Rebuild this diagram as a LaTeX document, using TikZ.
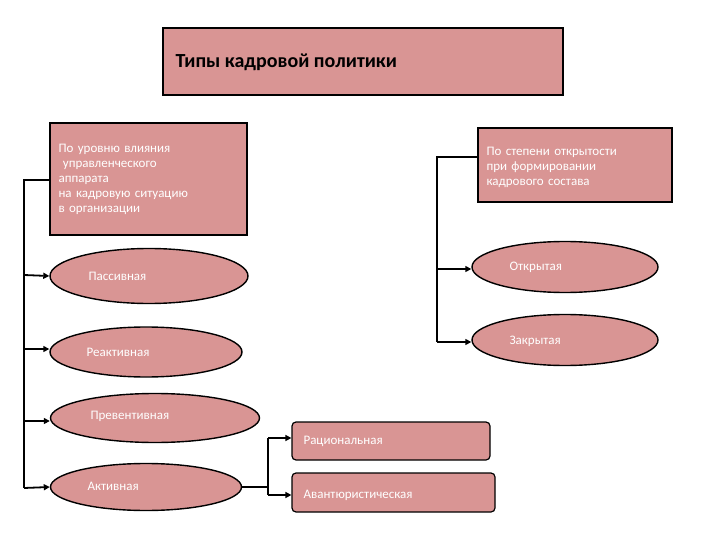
\documentclass[tikz,border=0pt]{standalone}
\usepackage{fontspec}
\setmainfont{Carlito}
\usetikzlibrary{shapes.geometric,arrows.meta}
\definecolor{pinkfill}{RGB}{217,149,148}
\tikzset{
 box/.style={draw=black,line width=1.4pt,fill=pinkfill,inner sep=0pt},
 ell/.style={ellipse,draw=black,line width=1.4pt,fill=pinkfill,inner sep=0pt},
 rbox/.style={draw=black,line width=1.2pt,fill=pinkfill,rounded corners=4pt,inner sep=0pt},
 wtext/.style={text=white,font=\fontsize{13}{15}\selectfont,align=left,anchor=west},
 conn/.style={line width=1.8pt,draw=black},
 arr/.style={conn,-{Triangle[length=6pt,width=6pt]}}
}
\begin{document}
\begin{tikzpicture}[x=1pt,y=-1pt]
\useasboundingbox (0,0) rectangle (720,540);
% title
\node[box,minimum width=400pt,minimum height=67pt] (title) at (363,61.5) {};
\node[anchor=west,font=\fontsize{20}{24}\selectfont\bfseries] (tt) at (172,62) {Типы кадровой политики};
% left box
\node[box,minimum width=197pt,minimum height=112pt] (lb) at (148.5,179) {};
\node[wtext,text width=200pt] (lbt) at (55,179) {По уровню влияния\\ \ управленческого\\аппарата\\на кадровую ситуацию\\в организации};
% right box
\node[box,minimum width=194pt,minimum height=74pt] (rb) at (575,165) {};
\node[wtext,text width=200pt] (rbt) at (483,167) {По степени открытости\\при формировании\\кадрового состава};
% ellipses
\node[ell,minimum width=198pt,minimum height=55pt] (e1) at (149,276) {};
\node[wtext] at (85,276) {Пассивная};
\node[ell,minimum width=192pt,minimum height=50pt] (e2) at (146,352) {};
\node[wtext] at (83,352) {Реактивная};
\node[ell,minimum width=209pt,minimum height=49pt] (e3) at (155,418) {};
\node[wtext] at (87,416) {Превентивная};
\node[ell,minimum width=191pt,minimum height=47pt] (e4) at (146,487) {};
\node[wtext] at (84,486) {Активная};
\node[ell,minimum width=186pt,minimum height=51pt] (o1) at (565,267) {};
\node[wtext] at (506,267) {Открытая};
\node[ell,minimum width=186pt,minimum height=51pt] (o2) at (565,340) {};
\node[wtext] at (506,341) {Закрытая};
% rounded boxes
\node[rbox,minimum width=198pt,minimum height=38pt] (r1) at (391,441) {};
\node[wtext] at (300,441) {Рациональная};
\node[rbox,minimum width=203pt,minimum height=39pt] (r2) at (393.5,492.5) {};
\node[wtext] at (300,495) {Авантюристическая};
% connectors left
\coordinate (lt) at (24,180);
\coordinate (lbot) at (24,488);
\draw[conn] (lb.west |- 0,180) -- (lt) -- (lbot);
\draw[arr] (24,275) -- (e1.west);
\draw[arr] (24,349) -- (e2.west |- 0,349);
\draw[arr] (24,421) -- (e3.west |- 0,421);
\draw[arr] (lbot) -- (e4.west);
% right connectors
\draw[conn] (rb.west |- 0,157) -- (437,157) -- (437,342);
\draw[arr] (437,269) -- (o1.west |- 0,269);
\draw[arr] (437,342) -- (o2.west |- 0,342);
% activ connectors
\draw[conn] (e4.east) -- (268,487);
\draw[conn] (268,438) -- (268,495);
\draw[arr] (268,438) -- (r1.west |- 0,438);
\draw[arr] (268,495) -- (r2.west |- 0,495);
\end{tikzpicture}
\end{document}
